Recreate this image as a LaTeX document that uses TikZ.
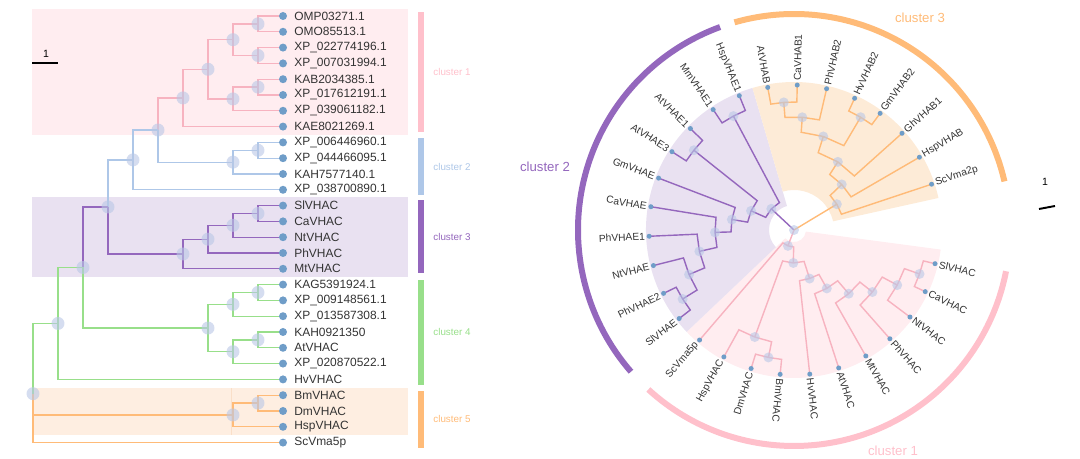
\documentclass[tikz,border=0pt]{standalone}
\usepackage{fontspec}
\setmainfont{Liberation Sans}
\definecolor{labelgray}{HTML}{333333}
\definecolor{tipblue}{HTML}{6F9DC8}
\definecolor{jointblue}{HTML}{B9C7E6}
\definecolor{c1line}{HTML}{F7B3C0}
\definecolor{c1bar}{HTML}{FFC0CB}
\definecolor{c1shade}{HTML}{FFEDF0}
\definecolor{c2line}{HTML}{AEC7E8}
\definecolor{c3line}{HTML}{9467BD}
\definecolor{c3shade}{HTML}{E9E1F1}
\definecolor{c4line}{HTML}{98DF8A}
\definecolor{c5line}{HTML}{FFBB78}
\definecolor{c5shade}{HTML}{FEEEE1}
\definecolor{c5ring}{HTML}{FDEBD7}
\definecolor{c5tint}{HTML}{FADFC8}
\tikzset{
  tipdot/.style={
    circle,
    fill=tipblue,
    inner sep=0pt,
    minimum size=0.16cm
  },
  ringtipdot/.style={
    tipdot,
    minimum size=0.1cm
  },
  joint/.style={
    circle,
    fill=jointblue,
    fill opacity=0.6,
    inner sep=0pt,
    minimum size=0.26cm
  },
  ringjoint/.style={
    joint,
    minimum size=0.2cm
  },
  taxon/.style={
    anchor=west,
    inner sep=0pt,
    text=labelgray,
    font=\fontsize{6.8}{7}\selectfont
  },
  ringtaxon/.style={
    inner sep=0pt,
    text=labelgray,
    font=\fontsize{5.8}{6}\selectfont
  },
  twig/.style={line width=0.7pt},
  ringtwig/.style={line width=0.8pt},
  clusterbar/.style={line width=0.12cm},
  barlabel/.style={font=\fontsize{5.6}{6}\selectfont},
  ringlabel/.style={font=\fontsize{7.5}{8}\selectfont}
}

\begin{document}
\begin{tikzpicture}[x=0.02cm, y=0.02cm]
  \useasboundingbox (0,0) rectangle (1080,459);

  % rectangular tree
  \fill[c1shade] (32,324) rectangle (408,450);
  \fill[c3shade] (32,182) rectangle (408,262);
  \fill[c5shade] (32,24) rectangle (408,71);
  \draw[c5tint, line width=0.4pt] (231,24) -- (231,71);

  \foreach \k/\name in {0/OMP03271.1, 1/OMO85513.1, 2/XP\_022774196.1,
      3/XP\_007031994.1, 4/KAB2034385.1, 5/XP\_017612191.1,
      6/XP\_039061182.1, 7/KAE8021269.1, 8/XP\_006446960.1,
      9/XP\_044466095.1, 10/KAH7577140.1, 11/XP\_038700890.1,
      12/SlVHAC, 13/CaVHAC, 14/NtVHAC, 15/PhVHAC, 16/MtVHAC,
      17/KAG5391924.1, 18/XP\_009148561.1, 19/XP\_013587308.1,
      20/KAH0921350, 21/AtVHAC, 22/XP\_020870522.1, 23/HvVHAC,
      24/BmVHAC, 25/DmVHAC, 26/HspVHAC, 27/ScVma5p} {
    \coordinate (L\k) at (283, {443-15.8*\k});
    \node[taxon] (T\k) at (294, {443-15.8*\k}) {\name};
  }

  \coordinate (x01) at (258,435.1);
  \coordinate (x23) at (258,403.5);
  \coordinate (x03) at (233,419.3);
  \coordinate (x45) at (258,371.9);
  \coordinate (x46) at (233,360.05);
  \coordinate (x06) at (208,389.7);
  \coordinate (x07) at (183,361.05);
  \coordinate (x89) at (258,308.7);
  \coordinate (x810) at (233,296.85);
  \coordinate (x010) at (158,328.95);
  \coordinate (x011) at (133,299.1);
  \coordinate (x1213) at (258,245.5);
  \coordinate (x1214) at (233,233.65);
  \coordinate (x1215) at (208,219.8);
  \coordinate (x1216) at (183,205.0);
  \coordinate (x016) at (108,252.05);
  \coordinate (x1718) at (258,166.5);
  \coordinate (x1719) at (233,154.65);
  \coordinate (x2021) at (258,119.1);
  \coordinate (x2022) at (233,107.25);
  \coordinate (x1722) at (208,130.95);
  \coordinate (x022) at (83,191.5);
  \coordinate (x023) at (58,135.55);
  \coordinate (x2425) at (258,55.9);
  \coordinate (x2426) at (233,44.05);
  \coordinate (lroot) at (33,65.33);

  \draw[twig, c1line] (x01) |- (L0) (x01) |- (L1) (x23) |- (L2) (x23) |- (L3)
    (x03) |- (x01) (x03) |- (x23) (x45) |- (L4) (x45) |- (L5)
    (x46) |- (x45) (x46) |- (L6) (x06) |- (x03) (x06) |- (x46)
    (x07) |- (x06) (x07) |- (L7) (x010) |- (x07);
  \draw[twig, c2line] (x89) |- (L8) (x89) |- (L9) (x810) |- (x89) (x810) |- (L10)
    (x010) |- (x810) (x011) |- (x010) (x011) |- (L11) (x016) |- (x011);
  \draw[twig, c3line] (x1213) |- (L12) (x1213) |- (L13) (x1214) |- (x1213)
    (x1214) |- (L14) (x1215) |- (x1214) (x1215) |- (L15) (x1216) |- (x1215)
    (x1216) |- (L16) (x016) |- (x1216) (x022) |- (x016);
  \draw[twig, c4line] (x1718) |- (L17) (x1718) |- (L18) (x1719) |- (x1718)
    (x1719) |- (L19) (x2021) |- (L20) (x2021) |- (L21) (x2022) |- (x2021)
    (x2022) |- (L22) (x1722) |- (x1719) (x1722) |- (x2022) (x022) |- (x1722)
    (x023) |- (x022) (x023) |- (L23) (lroot) |- (x023);
  \draw[twig, c5line] (x2425) |- (L24) (x2425) |- (L25) (x2426) |- (x2425)
    (x2426) |- (L26) (lroot) |- (x2426) (lroot) |- (L27);

  \foreach \k in {0,...,27}
    \node[tipdot] (D\k) at (L\k) {};
  \foreach \n in {x01,x23,x03,x45,x46,x06,x07,x89,x810,x010,x011,x1213,x1214,
      x1215,x1216,x016,x1718,x1719,x2021,x2022,x1722,x022,x023,x2425,x2426,lroot}
    \node[joint] (M\n) at (\n) {};

  \draw[clusterbar, c1bar] (421,327) -- (421,447);
  \draw[clusterbar, c2line] (421,264) -- (421,321);
  \draw[clusterbar, c3line] (421,186) -- (421,259);
  \draw[clusterbar, c4line] (421,74) -- (421,179);
  \draw[clusterbar, c5line] (421,11) -- (421,68);
  \node[barlabel, text=c1bar] (K1) at (452,387) {cluster 1};
  \node[barlabel, text=c2line] (K2) at (452,292) {cluster 2};
  \node[barlabel, text=c3line] (K3) at (452,222) {cluster 3};
  \node[barlabel, text=c4line] (K4) at (452,127) {cluster 4};
  \node[barlabel, text=c5line] (K5) at (452,40) {cluster 5};

  \draw[line width=1.1pt] (32,396) -- (58,396);
  \node[font=\fontsize{6}{6}\selectfont] (scaleA) at (46,405) {1};

  % circular tree
  \begin{scope}[shift={(794,229)}]
    \fill[c1shade] (223.5:12) -- (223.5:148) arc[start angle=223.5, end angle=352.4, radius=148]
      -- (352.4:12) arc[start angle=352.4, end angle=223.5, radius=12] -- cycle;
    \fill[c3shade] (106.3:25) -- (106.3:148) arc[start angle=106.3, end angle=223.5, radius=148]
      -- (223.5:25) arc[start angle=223.5, end angle=106.3, radius=25] -- cycle;
    \fill[c5ring] (12.5:40) -- (12.5:148) arc[start angle=12.5, end angle=106.3, radius=148]
      -- (106.3:40) arc[start angle=106.3, end angle=12.5, radius=40] -- cycle;

    \draw[clusterbar, c3line] (110:216) arc[start angle=110, end angle=221, radius=216];
    \draw[clusterbar, c5line] (13:216) arc[start angle=13, end angle=106, radius=216];
    \draw[clusterbar, c1bar] (227.6:216) arc[start angle=227.6, end angle=349, radius=216];

    \foreach \k/\name in {0/ScVma2p, 1/HspVHAB, 2/GhVHAB1, 3/GmVHAB2, 4/HvVHAB2,
        5/PhVHAB2, 6/CaVHAB1, 7/AtVHAB, 8/HspVHAE1, 9/MmVHAE1, 10/AtVHAE1,
        11/AtVHAE3, 12/GmVHAE, 13/CaVHAE, 14/PhVHAE1, 15/NtVHAE, 16/PhVHAE2,
        17/SlVHAE, 18/ScVma5p, 19/HspVHAC, 20/DmVHAC, 21/BmVHAC, 22/HvVHAC,
        23/AtVHAC, 24/MtVHAC, 25/PhVHAC, 26/NtVHAC, 27/CaVHAC, 28/SlVHAC} {
      \pgfmathsetmacro\ang{18.4+11.72*\k}
      \pgfmathsetmacro\rot{\ang-180}
      \pgfmathtruncatemacro\flip{(\ang>90)&&(\ang<258)}
      \coordinate (R\k) at (\ang:145);
      \ifnum\flip=1
        \node[ringtaxon, anchor=east, rotate=\rot] (S\k) at (\ang:149) {\name};
      \else
        \node[ringtaxon, anchor=west, rotate=\ang] (S\k) at (\ang:149) {\name};
      \fi
    }

    \coordinate (ring) at (0,0);
    \coordinate (B1) at (31.04:50);
    \coordinate (B2) at (43.67:66);
    \coordinate (B3) at (57.22:81);
    \coordinate (B4) at (72.61:98);
    \coordinate (B5) at (85.79:113);
    \coordinate (B6) at (94.58:128);
    \coordinate (B7) at (59.42:131);
    \coordinate (E1) at (136.97:31);
    \coordinate (E2) at (118.02:129);
    \coordinate (E3) at (155.93:47);
    \coordinate (E4) at (141.46:128);
    \coordinate (E5) at (170.40:63);
    \coordinate (E6) at (181.75:79);
    \coordinate (E7) at (192.74:97);
    \coordinate (E8) at (202.99:114);
    \coordinate (E9) at (211.78:131);
    \coordinate (C1) at (249.09:17);
    \coordinate (C2) at (268.83:33);
    \coordinate (C3) at (249.87:114);
    \coordinate (C4) at (258.66:130);
    \coordinate (C5) at (287.78:51);
    \coordinate (C6) at (299.32:67);
    \coordinate (C7) at (310.67:84);
    \coordinate (C8) at (321.66:100);
    \coordinate (C9) at (331.91:117);
    \coordinate (C10) at (340.70:133);

    \draw[ringtwig, c5line] (ring) -- (B1)
      (B1) -- (18.40:50) -- (R0) (B1) -- (43.67:50) -- (B2)
      (B2) -- (30.12:66) -- (R1) (B2) -- (57.22:66) -- (B3)
      (B3) -- (41.84:81) -- (R2) (B3) -- (72.61:81) -- (B4)
      (B4) -- (85.79:98) -- (B5) (B4) -- (59.42:98) -- (B7)
      (B5) -- (94.58:113) -- (B6) (B5) -- (77.00:113) -- (R5)
      (B6) -- (88.72:128) -- (R6) (B6) -- (100.44:128) -- (R7)
      (B7) -- (53.56:131) -- (R3) (B7) -- (65.28:131) -- (R4);
    \draw[ringtwig, c3line] (ring) -- (E1)
      (E1) -- (118.02:31) -- (E2) (E1) -- (155.93:31) -- (E3)
      (E2) -- (112.16:129) -- (R8) (E2) -- (123.88:129) -- (R9)
      (E3) -- (141.46:47) -- (E4) (E3) -- (170.40:47) -- (E5)
      (E4) -- (135.60:128) -- (R10) (E4) -- (147.32:128) -- (R11)
      (E5) -- (159.04:63) -- (R12) (E5) -- (181.75:63) -- (E6)
      (E6) -- (170.76:79) -- (R13) (E6) -- (192.74:79) -- (E7)
      (E7) -- (182.48:97) -- (R14) (E7) -- (202.99:97) -- (E8)
      (E8) -- (194.20:114) -- (R15) (E8) -- (211.78:114) -- (E9)
      (E9) -- (205.92:131) -- (R16) (E9) -- (217.64:131) -- (R17);
    \draw[ringtwig, c1line] (ring) -- (C1)
      (C1) -- (229.36:17) -- (R18) (C1) -- (268.83:17) -- (C2)
      (C2) -- (249.87:33) -- (C3) (C2) -- (287.78:33) -- (C5)
      (C3) -- (241.08:114) -- (R19) (C3) -- (258.66:114) -- (C4)
      (C4) -- (252.80:130) -- (R20) (C4) -- (264.52:130) -- (R21)
      (C5) -- (276.24:51) -- (R22) (C5) -- (299.32:51) -- (C6)
      (C6) -- (287.96:67) -- (R23) (C6) -- (310.67:67) -- (C7)
      (C7) -- (299.68:84) -- (R24) (C7) -- (321.66:84) -- (C8)
      (C8) -- (311.40:100) -- (R25) (C8) -- (331.91:100) -- (C9)
      (C9) -- (323.12:117) -- (R26) (C9) -- (340.70:117) -- (C10)
      (C10) -- (334.84:133) -- (R27) (C10) -- (346.56:133) -- (R28);

    \foreach \k in {0,...,28}
      \node[ringtipdot] (Q\k) at (R\k) {};
    \foreach \n in {ring,B1,B2,B3,B4,B5,B6,B7,E1,E2,E3,E4,E5,E6,E7,E8,E9,
        C1,C2,C3,C4,C5,C6,C7,C8,C9,C10}
      \node[ringjoint] (J\n) at (\n) {};
  \end{scope}

  \node[ringlabel, text=c3line] (G2) at (545,292) {cluster 2};
  \node[ringlabel, text=c5line] (G3) at (920,441) {cluster 3};
  \node[ringlabel, text=c1bar] (G1) at (893,8) {cluster 1};

  \draw[line width=1.1pt] (1039,250) -- (1055,253);
  \node[font=\fontsize{6}{6}\selectfont] (scaleB) at (1045,277) {1};
\end{tikzpicture}
\end{document}
